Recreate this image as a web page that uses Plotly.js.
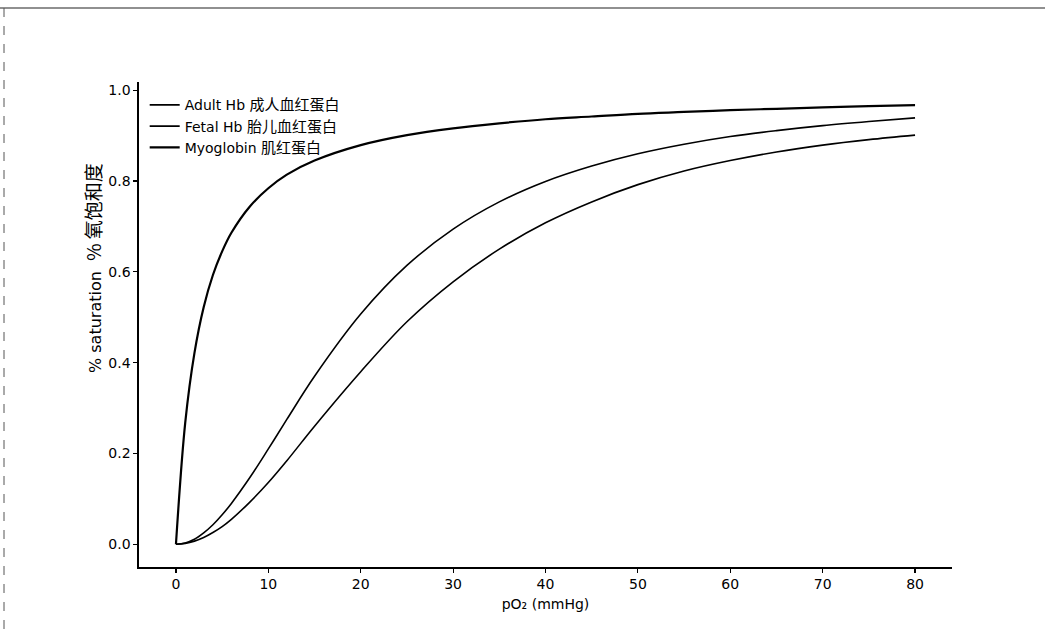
<!DOCTYPE html>
<html>
<head>
<meta charset="utf-8">
<script src="https://cdn.plot.ly/plotly-3.0.1.min.js"></script>
<style>
  html, body { margin: 0; padding: 0; background: #fff; }
  #chart { width: 1045px; height: 632px; }
</style>
</head>
<body>
<div id="chart"></div>
<script>
// pO2 (mmHg) sample points
const pO2 = [0, 1, 2, 3, 4, 5, 6, 8, 10, 12, 15, 20, 25, 30, 35, 40, 45, 50, 55, 60, 65, 70, 75, 80];
// saturation
const adultHb = [0, 0.002, 0.007, 0.015, 0.026, 0.039, 0.055, 0.093, 0.136, 0.184, 0.26, 0.38, 0.49, 0.578, 0.65, 0.708, 0.754, 0.792, 0.822, 0.845, 0.864, 0.879, 0.891, 0.901];
const fetalHb = [0, 0.003, 0.011, 0.025, 0.043, 0.065, 0.09, 0.147, 0.21, 0.275, 0.37, 0.507, 0.614, 0.694, 0.754, 0.799, 0.833, 0.86, 0.881, 0.898, 0.911, 0.922, 0.931, 0.939];
const myoglobin = [0, 0.267, 0.421, 0.522, 0.593, 0.645, 0.686, 0.744, 0.784, 0.814, 0.845, 0.879, 0.901, 0.916, 0.927, 0.936, 0.942, 0.948, 0.952, 0.956, 0.959, 0.962, 0.965, 0.967];

const seriesLatin = ['Adult Hb', 'Fetal Hb', 'Myoglobin'];
const seriesChinese = ['成人血红蛋白', '胎儿血红蛋白', '肌红蛋白'];
const xTicks = [0, 10, 20, 30, 40, 50, 60, 70, 80];
const yTicks = [0, 0.2, 0.4, 0.6, 0.8, 1.0];
const xTitle = 'pO₂ (mmHg)';
const yTitleLatin = '% saturation';
const yTitleChinese = '% 氧饱和度';

const FONT = 'DejaVu Sans, "Noto Sans CJK SC", sans-serif';
const CN = (s, size) => `<span style="font-family:'Noto Sans CJK SC';font-size:${size}px">${s}</span>`;
const legendName = i => `${seriesLatin[i]} ${CN(seriesChinese[i], 15)}`;

const values = [adultHb, fetalHb, myoglobin];
const widths = [1.6, 1.6, 2.2];
const traces = values.map((v, i) => ({
  x: pO2, y: v, name: legendName(i), mode: 'lines',
  line: { color: '#000', width: widths[i], shape: 'spline', smoothing: 1 }
}));

const layout = {
  width: 1045, height: 632,
  margin: { l: 139, r: 93, t: 82, b: 65 },
  paper_bgcolor: '#fff', plot_bgcolor: '#fff',
  font: { family: FONT, size: 14, color: '#000' },
  showlegend: true,
  legend: {
    x: 0.007, y: 0.985, xanchor: 'left', yanchor: 'top',
    bgcolor: 'rgba(0,0,0,0)', borderwidth: 0,
    font: { family: FONT, size: 14, color: '#000' },
    tracegroupgap: 0
  },
  xaxis: {
    range: [-4, 84],
    tickvals: xTicks,
    ticks: 'outside', ticklen: 4, tickwidth: 1.2, tickcolor: '#000',
    showline: true, linecolor: '#000', linewidth: 1.6,
    showgrid: false, zeroline: false, mirror: false,
    tickfont: { family: FONT, size: 14 },
    title: { text: xTitle, font: { family: FONT, size: 14 }, standoff: 8 }
  },
  yaxis: {
    range: [-0.05, 1.018],
    tickvals: yTicks, tickformat: '.1f',
    ticks: 'outside', ticklen: 4, tickwidth: 1.2, tickcolor: '#000',
    showline: true, linecolor: '#000', linewidth: 1.6,
    showgrid: false, zeroline: false, mirror: false,
    tickfont: { family: FONT, size: 14 }
  },
  annotations: [
    {
      text: `${yTitleLatin}  ${CN(yTitleChinese, 19)}`, xref: 'paper', yref: 'paper',
      x: (92 - 139) / 813, y: (567 - 268) / 485,
      xanchor: 'center', yanchor: 'middle', textangle: -90, showarrow: false,
      font: { family: FONT, size: 16, color: '#000' }
    }
  ],
  shapes: [
    { type: 'line', xref: 'paper', yref: 'paper', x0: -139/813, x1: (1045-139)/813, y0: (567-8)/485, y1: (567-8)/485, line: { color: '#222', width: 1.2 } },
    { type: 'line', xref: 'paper', yref: 'paper', x0: (4-139)/813, x1: (4-139)/813, y0: (567-8)/485, y1: (567-632)/485, line: { color: '#555', width: 1, dash: 'dash' } }
  ]
};

Plotly.newPlot('chart', traces, layout, { displayModeBar: false, staticPlot: true });
</script>
</body>
</html>
